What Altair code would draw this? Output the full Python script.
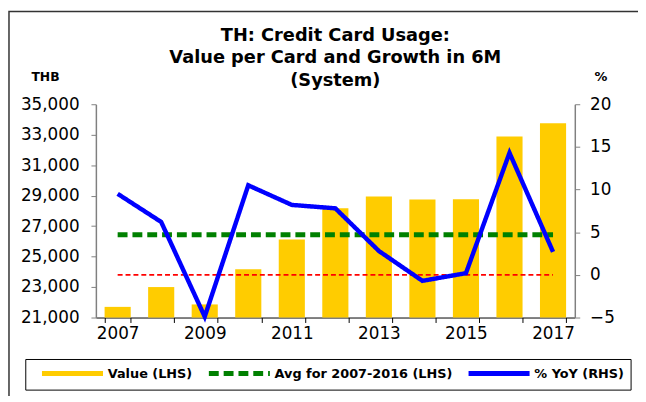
import altair as alt
import pandas as pd

FONT = "DejaVu Sans"

years = [str(y) for y in range(2007, 2018)]
values = [21700, 23000, 21860, 24170, 26130, 28170, 28950, 28740, 28760, 32890, 33750]
yoy = [9.5, 6.2, -4.9, 10.5, 8.2, 7.8, 2.8, -0.7, 0.2, 14.3, 2.7]
series_names = ["Value (LHS)", "Avg for 2007-2016 (LHS)", "% YoY (RHS)"]
title_lines = ["TH: Credit Card Usage:", "Value per Card and Growth in 6M", "(System)"]
left_ticks = list(range(21000, 35001, 2000))
right_ticks = [-5, 0, 5, 10, 15, 20]

avg_value = sum(values[:10]) / 10

df = pd.DataFrame({
    "year": years,
    "value": values,
    "yoy": yoy,
    "avg": [avg_value] * len(years),
    "zero": [0] * len(years),
    "base": [21000] * len(years),
})

color_scale = alt.Scale(domain=series_names, range=["#FFCC00", "#008000", "#0000FF"])
dash_scale = alt.Scale(domain=series_names, range=[[1, 0], [10, 5], [1, 0]])

legend = alt.Legend(
    title=None, orient="none", legendX=-71.5, legendY=258, direction="horizontal",
    symbolType="M0.4,0H10.7", symbolSize=144, symbolStrokeWidth=5,
    labelFontSize=13, labelFontWeight="bold", labelFont=FONT, labelColor="black",
    labelLimit=400, strokeColor="black", padding=6, columnPadding=5, labelOffset=60.5,
)

x_enc = alt.X(
    "year:O", title=None,
    scale=alt.Scale(paddingInner=0.4, paddingOuter=0.2),
    axis=alt.Axis(
        tickBand="extent", labelAngle=0,
        labelExpr="toNumber(datum.value) % 2 == 1 ? datum.label : ''",
        domainColor="black", tickColor="black", tickSize=5, labelPadding=3,
        labelFontSize=17, labelFont=FONT, labelColor="black",
    ),
)


def left_y(field):
    return alt.Y(
        field, scale=alt.Scale(domain=[21000, 35000], nice=False, zero=False),
        axis=alt.Axis(
            orient="left", values=left_ticks, format=",.0f", title="THB",
            titleAngle=0, titleX=-51.5, titleY=-24, titleAlign="center",
            titleBaseline="alphabetic", titleFontWeight="bold", titleFontSize=12.5,
            titleFont=FONT, titleColor="black",
            domainColor="#808080", tickColor="#808080", domainWidth=1.5,
            tickSize=5, labelPadding=12, labelFontSize=17, labelFont=FONT,
            labelColor="black", grid=False,
        ),
    )


def right_y(field):
    return alt.Y(
        field, scale=alt.Scale(domain=[-5, 20], nice=False, zero=False),
        axis=alt.Axis(
            orient="right", values=right_ticks, format="d", title="%",
            titleAngle=0, titleX=26, titleY=-24, titleAlign="center",
            titleBaseline="alphabetic", titleFontWeight="bold", titleFontSize=13,
            titleFont=FONT, titleColor="black",
            domainColor="#808080", tickColor="#808080", domainWidth=1.5,
            tickSize=5, labelPadding=10, labelFontSize=17, labelFont=FONT,
            labelColor="black", grid=False,
        ),
    )


base = alt.Chart(df)

bars = base.transform_calculate(series=f"'{series_names[0]}'").mark_bar().encode(
    x=x_enc,
    y=left_y("value:Q"),
    y2=alt.Y2("base:Q"),
    color=alt.Color("series:N", scale=color_scale, legend=legend),
)

avg_line = base.transform_calculate(series=f"'{series_names[1]}'").mark_line(strokeWidth=5).encode(
    x=x_enc,
    y=left_y("avg:Q"),
    color=alt.Color("series:N", scale=color_scale, legend=legend),
    strokeDash=alt.StrokeDash("series:N", scale=dash_scale, legend=legend),
)

border = alt.Chart(pd.DataFrame({"a": [0]})).mark_rect(
    filled=False, stroke="#333333", strokeWidth=1.5
).encode(
    x=alt.value(-88), x2=alt.value(700), y=alt.value(-94), y2=alt.value(400)
)

zero_line = base.mark_line(color="#FF0000", strokeWidth=2, strokeDash=[5, 3]).encode(
    x=x_enc,
    y=right_y("zero:Q"),
)

yoy_line = base.transform_calculate(series=f"'{series_names[2]}'").mark_line(strokeWidth=4.5).encode(
    x=x_enc,
    y=right_y("yoy:Q"),
    color=alt.Color("series:N", scale=color_scale, legend=legend),
    strokeDash=alt.StrokeDash("series:N", scale=dash_scale, legend=legend),
)

left = alt.layer(bars, avg_line, border)
right = alt.layer(zero_line, yoy_line)

chart = alt.layer(left, right).resolve_scale(y="independent").properties(
    width=485,
    height=216,
    autosize=alt.AutoSizeParams(type="none"),
    padding={"left": 89, "top": 95, "right": 64, "bottom": 77},
    title=alt.TitleParams(
        text=title_lines, fontSize=18, fontWeight="bold", font=FONT,
        lineHeight=22.5, offset=-80, anchor="middle", frame="group", color="black",
    ),
).configure(background="white").configure_view(stroke=None)

chart.save("out.html", embed_options={"renderer": "svg", "actions": False})
